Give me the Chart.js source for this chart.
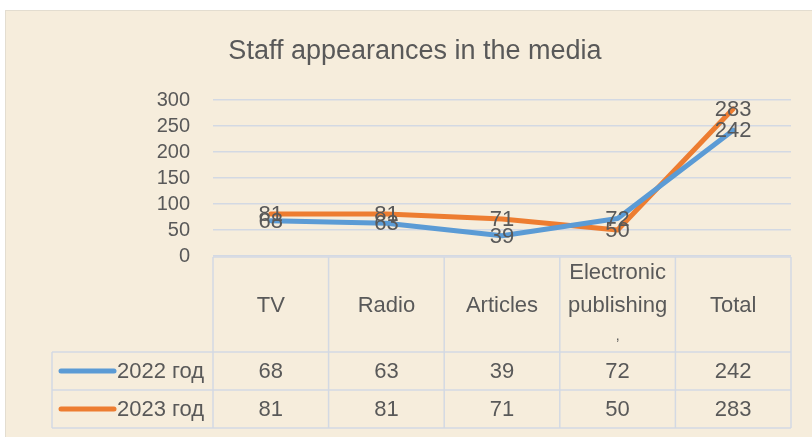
<!DOCTYPE html>
<html><head><meta charset="utf-8">
<script src="https://cdn.jsdelivr.net/npm/chart.js@4"></script>
<style>html,body{margin:0;padding:0;background:#fff;overflow:hidden}#wrap{width:812px;height:437px}</style>
</head><body><div id="wrap"><canvas id="c" width="812" height="437"></canvas></div>
<script>
const chartTitle = 'Staff appearances in the media';
const categories = ['TV', 'Radio', 'Articles', 'Electronic publishing,', 'Total'];
const categoryLines = [['TV'], ['Radio'], ['Articles'], ['Electronic', 'publishing', ','], ['Total']];
const seriesNames = ['2022 год', '2023 год'];
const values2022 = [68, 63, 39, 72, 242];
const values2023 = [81, 81, 71, 50, 283];
const yTickValues = [0, 50, 100, 150, 200, 250, 300];

const FONT = '"Liberation Sans", Arial, sans-serif';
const TEXT = '#595959';
const GRID = '#d3d9e3';
const BLUE = '#5b9bd5';
const ORANGE = '#ed7d31';
const colors = [BLUE, ORANGE];

const bgPlugin = {
  id: 'bg',
  beforeDraw(chart) {
    const ctx = chart.ctx;
    ctx.save();
    ctx.fillStyle = '#ffffff';
    ctx.fillRect(0, 0, chart.width, chart.height);
    ctx.fillStyle = '#f6eddc';
    ctx.fillRect(5, 10, chart.width - 5, chart.height - 10);
    ctx.strokeStyle = '#e3ddd0';
    ctx.lineWidth = 1;
    ctx.strokeRect(5.5, 10.5, chart.width, chart.height);
    ctx.restore();
  }
};

const labelPlugin = {
  id: 'vals',
  afterDatasetsDraw(chart) {
    const ctx = chart.ctx;
    ctx.save();
    ctx.font = '22px ' + FONT;
    ctx.fillStyle = TEXT;
    ctx.textAlign = 'center';
    ctx.textBaseline = 'middle';
    chart.data.datasets.forEach((ds, i) => {
      const meta = chart.getDatasetMeta(i);
      meta.data.forEach((pt, j) => {
        ctx.fillText(String(ds.data[j]), pt.x, pt.y + 1);
      });
    });
    ctx.restore();
  }
};

const tablePlugin = {
  id: 'table',
  afterDraw(chart) {
    const ctx = chart.ctx;
    const area = chart.chartArea;
    const n = categories.length;
    const left = area.left, right = area.right;
    const bw = (right - left) / n;
    const top = area.bottom + 1;
    const headBottom = 352;
    const rowH = 38;
    const legLeft = 52;
    const bottom = headBottom + rowH * seriesNames.length;
    ctx.save();
    ctx.strokeStyle = GRID;
    ctx.lineWidth = 1.5;
    ctx.beginPath();
    ctx.moveTo(left, top); ctx.lineTo(right, top);
    for (let r = 0; r <= seriesNames.length; r++) {
      const y = headBottom + r * rowH;
      ctx.moveTo(legLeft, y); ctx.lineTo(right, y);
    }
    for (let k = 0; k <= n; k++) {
      const x = left + k * bw;
      ctx.moveTo(x, top); ctx.lineTo(x, bottom);
    }
    ctx.moveTo(legLeft, headBottom); ctx.lineTo(legLeft, bottom);
    ctx.stroke();

    ctx.fillStyle = TEXT;
    ctx.textAlign = 'center';
    ctx.textBaseline = 'middle';
    ctx.font = '22px ' + FONT;
    const xs = chart.scales.x;
    categoryLines.forEach((lines, k) => {
      const cx = xs.getPixelForValue(k);
      const lh = 33;
      const midY = (top + headBottom) / 2 + 1;
      const y0 = midY - (lines.length - 1) * lh / 2;
      lines.forEach((t, li) => {
        if (t === ',') {
          ctx.font = '14px ' + FONT;
          ctx.fillText(t, cx, y0 + li * lh - 2);
          ctx.font = '22px ' + FONT;
        } else {
          ctx.fillText(t, cx, y0 + li * lh);
        }
      });
    });
    chart.data.datasets.forEach((ds, i) => {
      const cy = headBottom + i * rowH + rowH / 2 + 1;
      ds.data.forEach((v, j) => {
        ctx.fillText(String(v), xs.getPixelForValue(j), cy);
      });
      ctx.strokeStyle = colors[i];
      ctx.lineWidth = 5;
      ctx.lineCap = 'round';
      ctx.beginPath();
      ctx.moveTo(61, cy - 1); ctx.lineTo(114, cy - 1);
      ctx.stroke();
      ctx.textAlign = 'left';
      ctx.fillText(ds.label, 117, cy);
      ctx.textAlign = 'center';
    });
    ctx.restore();
  }
};

new Chart(document.getElementById('c'), {
  type: 'line',
  data: {
    labels: categories,
    datasets: [
      { label: seriesNames[0], data: values2022, borderColor: BLUE, backgroundColor: BLUE, borderWidth: 5, pointRadius: 0, tension: 0, borderCapStyle: 'round', borderJoinStyle: 'round' },
      { label: seriesNames[1], data: values2023, borderColor: ORANGE, backgroundColor: ORANGE, borderWidth: 5, pointRadius: 0, tension: 0, borderCapStyle: 'round', borderJoinStyle: 'round' }
    ]
  },
  options: {
    responsive: false,
    devicePixelRatio: 1,
    animation: false,
    layout: { padding: { left: 39, right: 21, top: 10, bottom: 181 } },
    plugins: {
      legend: { display: false },
      tooltip: { enabled: false },
      title: {
        display: true,
        text: chartTitle,
        color: TEXT,
        font: { family: FONT, size: 27, weight: 'normal' },
        padding: { top: 25, bottom: 32.6 }
      }
    },
    scales: {
      x: { display: false, offset: true },
      y: {
        min: 0, max: 300,
        afterFit(scale) { scale.width = 174; },
        afterBuildTicks(scale) { scale.ticks = yTickValues.map(v => ({ value: v })); },
        border: { display: false },
        grid: { color: GRID, lineWidth: 1.5, drawTicks: false },
        ticks: { color: TEXT, font: { family: FONT, size: 20 }, padding: 23, autoSkip: false }
      }
    }
  },
  plugins: [bgPlugin, labelPlugin, tablePlugin]
});
</script></body></html>
